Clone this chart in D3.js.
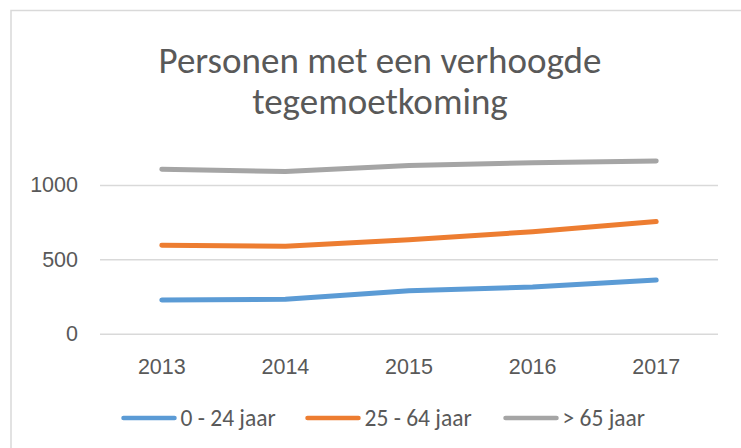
<!DOCTYPE html>
<html>
<head>
<meta charset="utf-8">
<script src="https://cdn.jsdelivr.net/npm/d3@7"></script>
<style>
  html, body { margin: 0; padding: 0; background: #ffffff; }
  svg { display: block; font-family: Calibri, Carlito, Lato, "Open Sans", sans-serif; }
</style>
</head>
<body>
<svg id="chart" width="741" height="448"></svg>
<script>
// Jaren en aantallen per leeftijdsgroep
const years = ["2013", "2014", "2015", "2016", "2017"];
const age0to24 = [227, 231, 289, 314, 361];
const age25to64 = [595, 588, 632, 686, 754];
const age65plus = [1106, 1090, 1131, 1150, 1162];
const seriesNames = ["0 - 24 jaar", "25 - 64 jaar", "> 65 jaar"];
const seriesColors = ["#5B9BD5", "#ED7D31", "#A5A5A5"];
const yTicks = [0, 500, 1000];
const titleLines = ["Personen met een verhoogde", "tegemoetkoming"];

const series = [age0to24, age25to64, age65plus].map((values, i) => ({
  name: seriesNames[i],
  color: seriesColors[i],
  values: values.map((v, j) => ({ year: years[j], value: v }))
}));

const svg = d3.select("#chart");
const textColor = "#595959";
const gridColor = "#d9d9d9";

// Kaderrand van de grafiek
svg.append("rect")
  .attr("x", 11).attr("y", 10.5)
  .attr("width", 760).attr("height", 460)
  .attr("fill", "#ffffff")
  .attr("stroke", gridColor).attr("stroke-width", 1.5);

// Titel
svg.append("g").selectAll("text")
  .data(titleLines)
  .join("text")
  .attr("x", 380)
  .attr("y", (d, i) => 73 + i * 41)
  .attr("text-anchor", "middle")
  .attr("fill", textColor)
  .attr("font-size", 37)
  .text(d => d);

const x = d3.scaleBand().domain(years).range([100, 718]);
const y = d3.scaleLinear().domain([0, 1000]).range([333.7, 185]);

// Horizontale rasterlijnen en y-as labels
const yAxis = d3.axisLeft(y).tickValues(yTicks).tickSize(-(718 - 100)).tickPadding(22).tickFormat(d3.format("d"));
const gy = svg.append("g").attr("transform", "translate(100,0)").call(yAxis);
gy.select(".domain").remove();
gy.selectAll(".tick line").attr("stroke", gridColor).attr("stroke-width", 1.5);
gy.selectAll(".tick text")
  .attr("fill", textColor)
  .attr("font-size", 21.5)
  .attr("font-family", null);

// x-as labels (jaartallen)
const xAxis = d3.axisBottom(x).tickSize(0).tickPadding(25);
const gx = svg.append("g").attr("transform", "translate(0,333.7)").call(xAxis);
gx.select(".domain").remove();
gx.selectAll(".tick text")
  .attr("fill", textColor)
  .attr("font-size", 21.5)
  .attr("font-family", null);

// Lijnen per leeftijdsgroep
const line = d3.line()
  .x(d => x(d.year) + x.bandwidth() / 2)
  .y(d => y(d.value));

svg.append("g").selectAll("path")
  .data(series)
  .join("path")
  .attr("d", d => line(d.values))
  .attr("fill", "none")
  .attr("stroke", d => d.color)
  .attr("stroke-width", 5)
  .attr("stroke-linecap", "round")
  .attr("stroke-linejoin", "round");

// Legenda
const legendX = [123.5, 307.5, 505.5];
const legend = svg.append("g").selectAll("g")
  .data(series)
  .join("g")
  .attr("transform", (d, i) => `translate(${legendX[i]},418)`);

legend.append("line")
  .attr("x1", 0).attr("x2", 51)
  .attr("y1", 0).attr("y2", 0)
  .attr("stroke", d => d.color)
  .attr("stroke-width", 4.5)
  .attr("stroke-linecap", "round");

legend.append("text")
  .attr("x", 57)
  .attr("y", 0)
  .attr("dy", "0.35em")
  .attr("fill", textColor)
  .attr("font-size", 23.5)
  .text(d => d.name);
</script>
</body>
</html>
